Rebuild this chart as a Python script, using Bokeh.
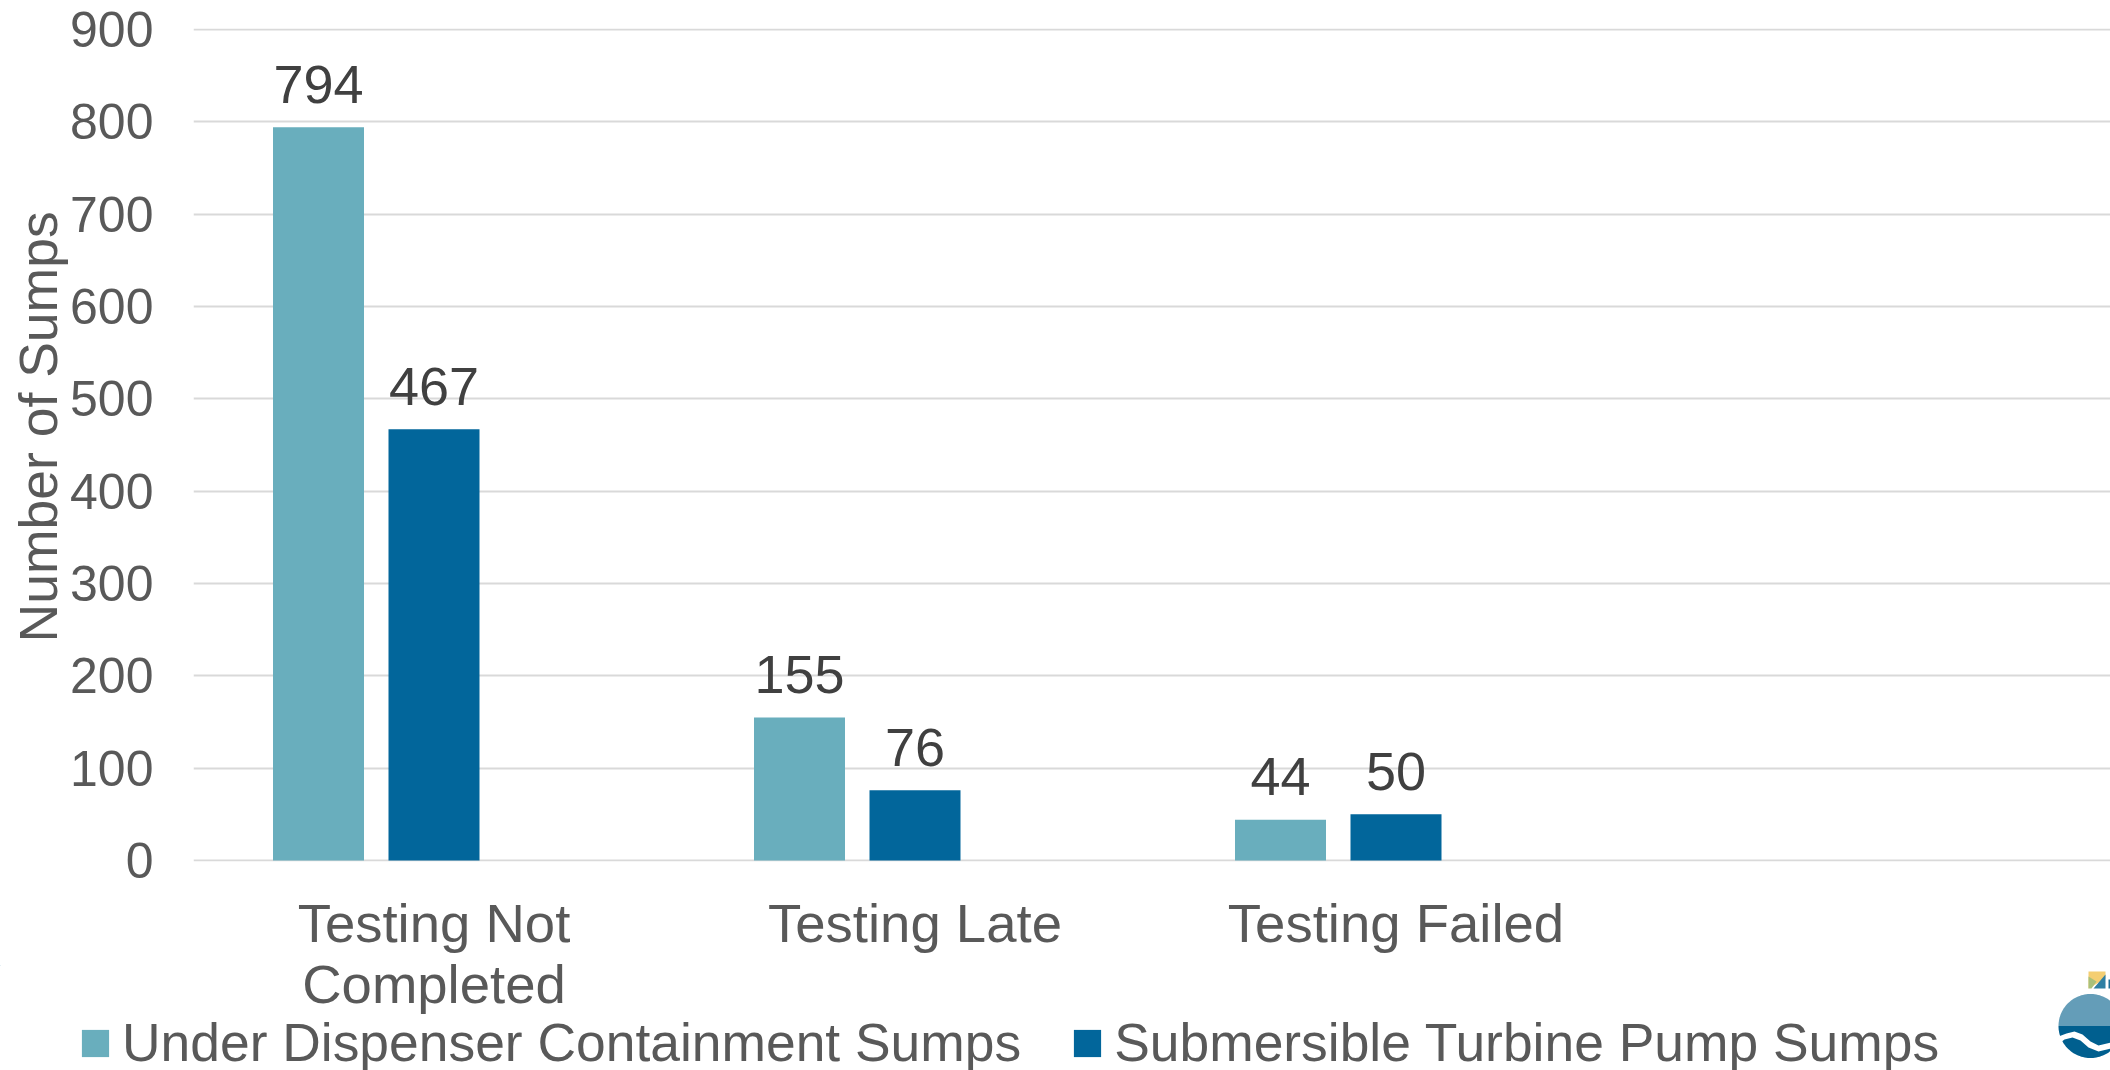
import numpy as np
from bokeh.core.properties import value
from bokeh.embed import file_html
from bokeh.layouts import column
from bokeh.models import (ColumnDataSource, FixedTicker, Legend, LegendItem,
                          NumeralTickFormatter, Range1d, Title)
from bokeh.plotting import figure
from bokeh.resources import INLINE

categories = ["Testing Not\nCompleted", "Testing Late", "Testing Failed"]
under_dispenser = [794, 155, 44]
submersible = [467, 76, 50]
y_ticks = [0, 100, 200, 300, 400, 500, 600, 700, 800, 900]
series_names = ["Under Dispenser Containment Sumps", "Submersible Turbine Pump Sumps"]
y_title = "Number of Sumps"

FONT = "Liberation Sans"
TEAL, NAVY = "#69AEBD", "#02669B"
GREY, DARK = "#595959", "#404040"

W, H = 2110, 1070
FRAME_L, FRAME_T, FRAME_B = 193, 28, 1070 - 861
cat_px = 481.0
BAR_W, STEP = 91 / cat_px, 115.5 / cat_px
pad = 900 / 831

p = figure(width=W, height=H, output_backend="svg", toolbar_location=None,
           x_range=Range1d(0, (W - FRAME_L) / cat_px), y_range=Range1d(-pad, 900 + pad),
           min_border_left=FRAME_L, min_border_right=0, min_border_top=FRAME_T,
           min_border_bottom=FRAME_B, background_fill_color="white",
           border_fill_color="white", outline_line_color=None, frame_align=False)

centers = np.arange(len(categories)) + 0.5
src = ColumnDataSource(dict(x1=centers - STEP, x2=centers, y1=under_dispenser, y2=submersible,
                            t1=[str(v) for v in under_dispenser], t2=[str(v) for v in submersible]))

p.vbar(x="x1", top="y1", width=BAR_W, source=src, fill_color=TEAL, line_color=None)
p.vbar(x="x2", top="y2", width=BAR_W, source=src, fill_color=NAVY, line_color=None)
for xc, tc, yc in (("x1", "t1", "y1"), ("x2", "t2", "y2")):
    p.text(x=xc, y=yc, text=tc, source=src, text_align="center", text_baseline="alphabetic",
           y_offset=-43, text_font=value(FONT), text_font_size="54px", text_color=DARK)

p.xgrid.visible = False
p.ygrid.grid_line_color = "#D9D9D9"
p.ygrid.grid_line_width = 2
p.ygrid.level = "underlay"

ya = p.yaxis[0]
ya.ticker = FixedTicker(ticks=y_ticks)
ya.formatter = NumeralTickFormatter(format="0")
ya.axis_line_color = None
ya.major_tick_line_color = None
ya.minor_tick_line_color = None
ya.major_label_standoff = 34
ya.major_label_text_font = FONT
ya.major_label_text_font_size = "50px"
ya.major_label_text_color = GREY

xa = p.xaxis[0]
xa.ticker = FixedTicker(ticks=[float(c) for c in centers])
xa.major_label_overrides = {float(c): n for c, n in zip(centers, categories)}
xa.axis_line_color = None
xa.major_tick_line_color = None
xa.minor_tick_line_color = None
xa.major_label_standoff = 25
xa.major_label_text_font = FONT
xa.major_label_text_font_size = "54.5px"
xa.major_label_text_color = GREY
xa.major_label_text_line_height = 1.0

p.add_layout(Title(text=y_title, align="left", offset=219, standoff=0,
                   text_font=FONT, text_font_size="53.5px", text_font_style="normal",
                   text_color=GREY), "left")

# lower band: legend and corner logo, laid over the bottom of the chart
BAND_TOP = 965
p2 = figure(width=W, height=H - BAND_TOP, output_backend="svg", toolbar_location=None,
            x_range=Range1d(0, W), y_range=Range1d(H, BAND_TOP),
            x_axis_location=None, y_axis_location=None,
            min_border=0, min_border_left=0, min_border_right=0, min_border_top=0, min_border_bottom=0,
            background_fill_alpha=0, border_fill_alpha=0, outline_line_color=None, frame_align=False)
p2.xgrid.visible = False
p2.ygrid.visible = False
p2.margin = (BAND_TOP - H, 0, 0, 0)

k1 = p2.vbar(x=[-100], top=[0], width=1, fill_color=TEAL, line_color=None)
k2 = p2.vbar(x=[-100], top=[0], width=1, fill_color=NAVY, line_color=None)
legend = Legend(items=[LegendItem(label=series_names[0], renderers=[k1]),
                       LegendItem(label=series_names[1], renderers=[k2])],
                orientation="horizontal", location=(78, -3),
                glyph_width=34, glyph_height=34, label_standoff=10, spacing=49,
                padding=0, margin=0, border_line_color=None, background_fill_alpha=0,
                label_text_font=FONT, label_text_font_size="53.4px", label_text_color=GREY)
p2.add_layout(legend)

# small corner logo
cx, cy, rad = 2090, 1025.5, 32
th = np.linspace(np.pi, 2 * np.pi, 60)
p2.patch(cx + rad * np.cos(th), cy + rad * np.sin(th), fill_color="#649DB8", line_color=None)
p2.patch(cx + rad * np.cos(th - np.pi), cy + rad * np.sin(th - np.pi), fill_color="#005F8F", line_color=None)
p2.patch([2058, 2066, 2074, 2082, 2090, 2098, 2110, 2110, 2098, 2088, 2080, 2072, 2064, 2060],
         [1036, 1033, 1031, 1034, 1041, 1045, 1042, 1048, 1051, 1047, 1040, 1037, 1039, 1042],
         fill_color="white", line_color=None)
p2.patch([2088, 2105, 2105, 2088], [971, 971, 978, 988], fill_color="#F4CE72", line_color=None)
p2.patch([2088, 2096, 2091, 2088], [976, 981, 988, 988], fill_color="#A9C07A", line_color=None)
p2.patch([2105, 2105, 2093], [974, 988, 988], fill_color="#2F7FA3", line_color=None)
p2.patch([2108, 2110, 2110, 2108], [979, 979, 988, 988], fill_color="#1F6F96", line_color=None)

open("out.html", "w").write(file_html(column(p, p2, spacing=0), INLINE))
